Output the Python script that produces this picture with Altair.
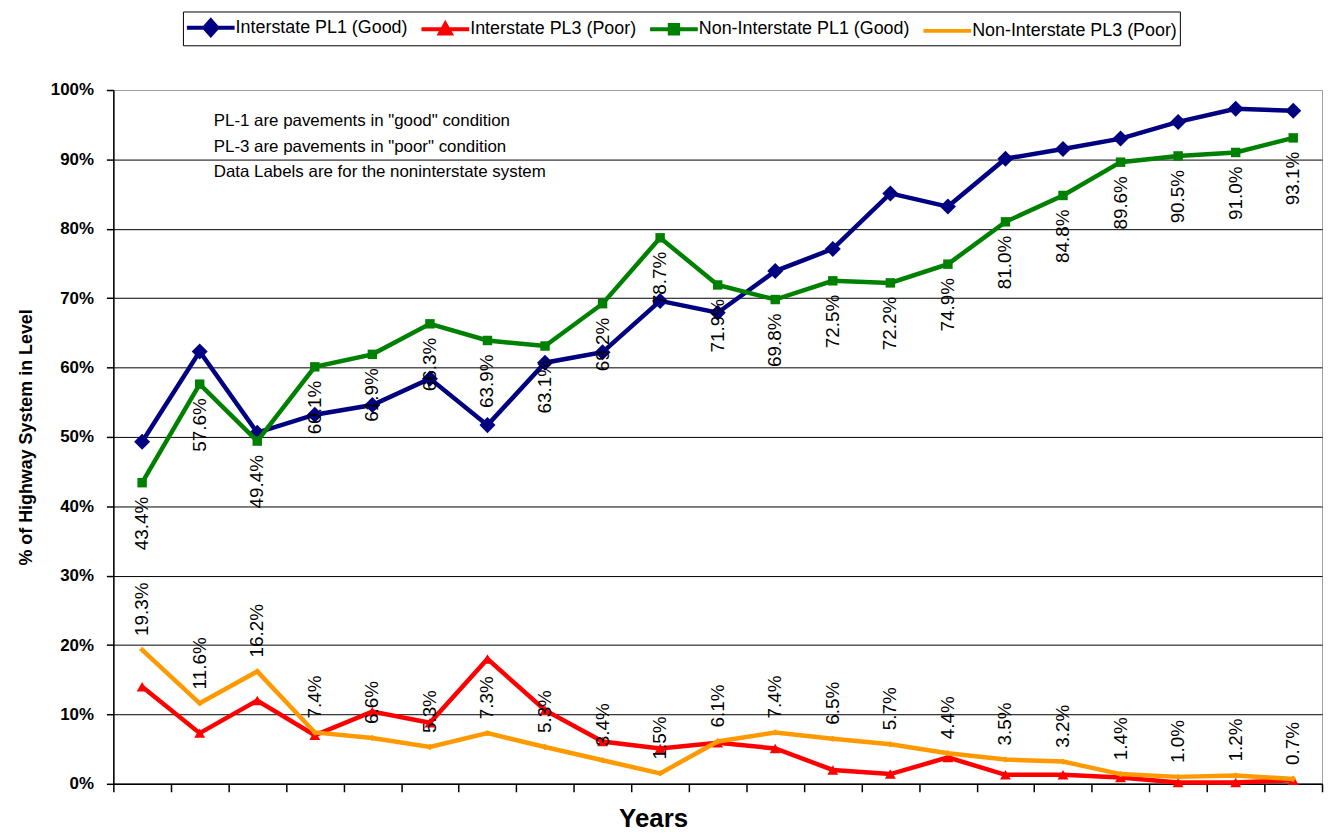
import altair as alt
import pandas as pd

FONT = "Liberation Sans"

periods = [f"P{i + 1}" for i in range(21)]
interstate_pl1 = [49.3, 62.3, 50.6, 53.2, 54.6, 58.4, 51.7, 60.7, 62.2, 69.6, 67.9,
                  73.9, 77.1, 85.1, 83.2, 90.1, 91.5, 93.0, 95.4, 97.3, 97.0]
interstate_pl3 = [14.0, 7.3, 12.0, 7.0, 10.4, 8.8, 18.0, 10.6, 6.1, 5.1, 5.9,
                  5.1, 2.0, 1.4, 3.8, 1.3, 1.3, 0.9, 0.2, 0.2, 0.5]
noninterstate_pl1 = [43.4, 57.6, 49.4, 60.1, 61.9, 66.3, 63.9, 63.1, 69.2, 78.7, 71.9,
                     69.8, 72.5, 72.2, 74.9, 81.0, 84.8, 89.6, 90.5, 91.0, 93.1]
noninterstate_pl3 = [19.3, 11.6, 16.2, 7.4, 6.6, 5.3, 7.3, 5.3, 3.4, 1.5, 6.1,
                     7.4, 6.5, 5.7, 4.4, 3.5, 3.2, 1.4, 1.0, 1.2, 0.7]

series_names = ["Interstate PL1 (Good)", "Interstate PL3 (Poor)",
                "Non-Interstate PL1 (Good)", "Non-Interstate PL3 (Poor)"]
series_values = [interstate_pl1, interstate_pl3, noninterstate_pl1, noninterstate_pl3]
series_colors = ["#000080", "#FF0000", "#008000", "#FF9900"]
marker_shapes = ["diamond", "triangle-up", "square", "cross"]
marker_sizes = [260, 120, 90, 30]
legend_paths = [
    "M-2,0L2,0M0,-0.62L0.55,0L0,0.62L-0.55,0Z",
    "M-2,0L2,0M0,-0.45L0.45,0.35L-0.45,0.35Z",
    "M-2,0L2,0M-0.35,-0.35L0.35,-0.35L0.35,0.35L-0.35,0.35Z",
    "M-2,0L2,0",
]
notes = ['PL-1 are pavements in "good" condition',
         'PL-3 are pavements in "poor" condition',
         'Data Labels are for the noninterstate system']

rows = []
for name, vals in zip(series_names, series_values):
    for p, v in zip(periods, vals):
        rows.append({"period": p, "series": name, "value": v})
df = pd.DataFrame(rows)

x_enc = alt.X(
    "period:N", sort=periods,
    scale=alt.Scale(type="band", paddingInner=0, paddingOuter=0),
    axis=alt.Axis(labels=False, title="Years", tickBand="extent", tickSize=8,
                  tickColor="black", tickWidth=1.5, domainColor="black", domainWidth=1.5,
                  grid=False, titleFont=FONT, titleFontSize=26, titleFontWeight="bold",
                  titleColor="black", titleX=543, titleY=35, titleBaseline="middle",
                  titleAlign="center"),
)
y_enc = alt.Y(
    "value:Q",
    scale=alt.Scale(domain=[0, 100], nice=False, zero=True),
    axis=alt.Axis(values=list(range(0, 101, 10)), labelExpr="datum.value + '%'",
                  labelFont=FONT, labelFontSize=17, labelFontWeight="bold",
                  labelColor="black", labelPadding=13, tickSize=7, tickColor="black",
                  tickWidth=1.5, domainColor="black", domainWidth=1.5, grid=True,
                  gridColor={"condition": {"test": "datum.value == 100", "value": "#a0a0a0"},
                             "value": "black"},
                  gridWidth=1, title="% of Highway System in Level", titleFont=FONT,
                  titleFontSize=18, titleFontWeight="bold", titleColor="black",
                  titleX=-87, titleY=349, titleAngle=270, titleAlign="center",
                  titleBaseline="middle"),
)

base = alt.Chart(df)
layers = []
for name, color, shp, sz in zip(series_names, series_colors, marker_shapes, marker_sizes):
    sub = base.transform_filter(alt.datum.series == name)
    layers.append(sub.mark_line(strokeWidth=4.5, color=color).encode(x=x_enc, y=y_enc))
    layers.append(sub.mark_point(filled=True, shape=shp, size=sz, color=color,
                                 opacity=1, strokeWidth=0).encode(x=x_enc, y=y_enc))

label_calc = "format(datum.value, '.1f') + '%'"
green_labels = base.transform_filter(alt.datum.series == series_names[2]).transform_calculate(
    lbl=label_calc).mark_text(angle=270, align="right", baseline="middle", dx=-14,
                              fontSize=19, font=FONT, color="black").encode(
    x=x_enc, y=y_enc, text="lbl:N")
orange_labels = base.transform_filter(alt.datum.series == series_names[3]).transform_calculate(
    lbl=label_calc).mark_text(angle=270, align="left", baseline="middle", dx=14,
                              fontSize=19, font=FONT, color="black").encode(
    x=x_enc, y=y_enc, text="lbl:N")
layers += [green_labels, orange_labels]

annotation = alt.Chart(pd.DataFrame({"k": [0]})).mark_text(
    text=notes, align="left", baseline="top", fontSize=17, lineHeight=26,
    font=FONT, color="black").encode(x=alt.value(101), y=alt.value(23))
layers.append(annotation)

leg = alt.Legend(title=None, orient="none", legendX=70, legendY=-79, direction="horizontal",
                 columns=4, symbolSize=576, symbolStrokeWidth=4, symbolOffset=12,
                 labelOffset=11, labelFontSize=18, labelFont=FONT, labelColor="black",
                 columnPadding=5, padding=2, strokeColor="black", labelLimit=400)
legend_df = pd.DataFrame({"series": series_names})
dummy = alt.Chart(legend_df).mark_point(filled=True, clip=True, opacity=1, strokeWidth=4).encode(
    x=alt.value(-600), y=alt.value(-600),
    fill=alt.Fill("series:N", scale=alt.Scale(domain=series_names, range=series_colors), legend=leg),
    stroke=alt.Stroke("series:N", scale=alt.Scale(domain=series_names, range=series_colors), legend=leg),
    shape=alt.Shape("series:N", scale=alt.Scale(domain=series_names, range=legend_paths), legend=leg),
)
layers.append(dummy)

chart = alt.layer(*layers).properties(
    width=1216, height=698,
    padding={"left": 106, "top": 80, "right": 2, "bottom": 50},
    autosize=alt.AutoSizeParams(type="none"),
).configure_view(stroke="#a0a0a0", strokeWidth=1)

chart.save("out.html", embed_options={"renderer": "svg", "actions": False})
